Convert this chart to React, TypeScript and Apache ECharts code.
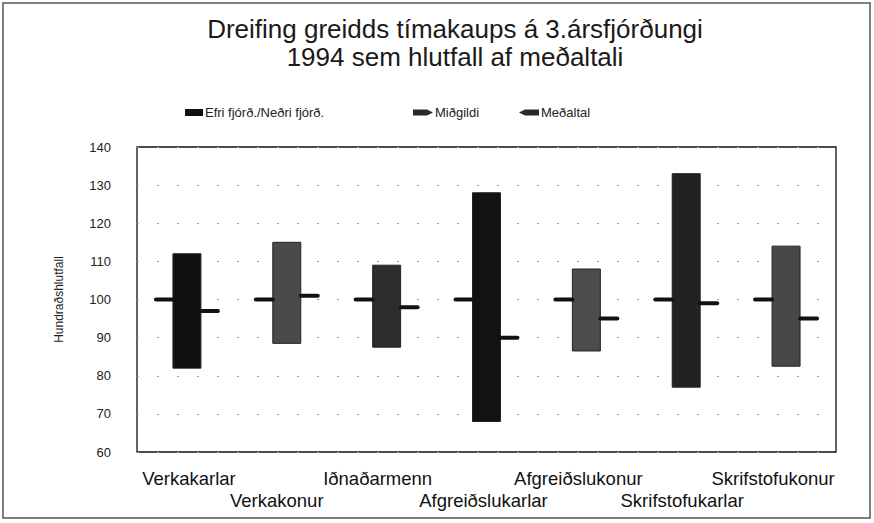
import React, { useEffect, useRef } from "react";
import * as echarts from "echarts";

const categories = [
  "Verkakarlar",
  "Verkakonur",
  "Iðnaðarmenn",
  "Afgreiðslukarlar",
  "Afgreiðslukonur",
  "Skrifstofukarlar",
  "Skrifstofukonur",
];
const upperQuartile = [112, 115, 109, 128, 108, 133, 114];
const lowerQuartile = [82, 88.5, 87.5, 68, 86.5, 77, 82.5];
const median = [97, 101, 98, 90, 95, 99, 95];
const mean = [100, 100, 100, 100, 100, 100, 100];
const yTicks = { min: 60, max: 140, interval: 10 };

// styling only
const boxColors = ["#111", "#4a4a4a", "#2c2c2c", "#121212", "#4c4c4c", "#222", "#484848"];
const labelShift = [2, -10, -9, -3, -8, -4, -13];
const FONT = "'Liberation Sans', Arial, Helvetica, sans-serif";

export default function App() {
  const ref = useRef<HTMLDivElement>(null);
  useEffect(() => {
    if (!ref.current) return;
    const chart = echarts.init(ref.current, undefined, { renderer: "svg" });
    const boxData = categories.map((_, i) => [i, lowerQuartile[i], upperQuartile[i]]);
    const medData = categories.map((_, i) => [i, median[i]]);
    const meanData = categories.map((_, i) => [i, mean[i]]);
    const boxHalf = (api: any) => api.size([1, 0])[0] * 0.14;
    const rich: any = {};
    labelShift.forEach((s, i) => {
      rich["s" + i] = {
        fontSize: 18.5,
        lineHeight: 22,
        color: "#111",
        fontFamily: FONT,
        padding: s < 0 ? [0, -2 * s, 0, 0] : [0, 0, 0, 2 * s],
      };
    });
    const option: any = {
      animation: false,
      backgroundColor: "#fff",
      textStyle: { fontFamily: FONT },
      title: {
        text: "Dreifing greidds tímakaups á 3.ársfjórðungi\n1994 sem hlutfall af meðaltali",
        left: 455,
        textAlign: "center",
        top: 15,
        padding: 0,
        textStyle: { fontFamily: FONT, fontSize: 26, fontWeight: "normal", color: "#1a1a1a", lineHeight: 28 },
      },
      legend: [
        {
          data: [{ name: "Efri fjórð./Neðri fjórð.", icon: "rect" }],
          left: 180, top: 101, itemWidth: 18, itemHeight: 7, itemGap: 4,
          textStyle: { fontFamily: FONT, fontSize: 13, color: "#222", padding: [0, 0, 0, -3] },
        },
        {
          data: [{ name: "Miðgildi", icon: "path://M0,0 L14,0 L20,3 L14,6 L0,6 Z" }],
          left: 408, top: 101, itemWidth: 20, itemHeight: 7,
          textStyle: { fontFamily: FONT, fontSize: 13, color: "#222", padding: [0, 0, 0, -3] },
        },
        {
          data: [{ name: "Meðaltal", icon: "path://M6,0 L20,0 L20,6 L6,6 L0,3 Z" }],
          left: 514, top: 101, itemWidth: 20, itemHeight: 7,
          textStyle: { fontFamily: FONT, fontSize: 13, color: "#222", padding: [0, 0, 0, -3] },
        },
      ],
      grid: {
        left: 137, right: 38, top: 147, bottom: 71,
        show: true, borderColor: "#111", borderWidth: 1.3, backgroundColor: "transparent",
      },
      xAxis: {
        type: "category",
        data: categories,
        axisLine: { show: false },
        axisTick: { show: false },
        axisLabel: {
          interval: 0,
          margin: 15,
          fontSize: 18.5,
          lineHeight: 22,
          color: "#111",
          fontFamily: FONT,
          rich,
          formatter: (v: string, i: number) => (i % 2 ? "\n" : "") + "{s" + i + "|" + v + "}",
        },
        splitLine: { show: false },
      },
      yAxis: {
        type: "value",
        min: yTicks.min,
        max: yTicks.max,
        interval: yTicks.interval,
        name: "Hundraðshlutfall",
        nameLocation: "middle",
        nameRotate: 90,
        nameGap: 72,
        nameTextStyle: { fontFamily: FONT, fontSize: 12, color: "#222" },
        axisLine: { show: false },
        axisTick: { show: false },
        axisLabel: { fontSize: 13, color: "#222", margin: 26, fontFamily: FONT },
        splitLine: { show: true, lineStyle: { color: "#9a9a9a", width: 1, type: [2, 18] } },
      },
      series: [
        {
          name: "Efri fjórð./Neðri fjórð.",
          type: "custom",
          itemStyle: { color: "#111" },
          data: boxData,
          encode: { x: 0, y: [1, 2] },
          renderItem: (params: any, api: any) => {
            const i = api.value(0);
            const lo = api.coord([i, api.value(1)]);
            const hi = api.coord([i, api.value(2)]);
            const hw = boxHalf(api);
            return {
              type: "rect",
              shape: { x: lo[0] - hw, y: hi[1], width: hw * 2, height: lo[1] - hi[1] },
              style: { fill: boxColors[params.dataIndex], stroke: "#222", lineWidth: 1 },
            };
          },
        },
        {
          name: "Miðgildi",
          type: "custom",
          itemStyle: { color: "#2a2a2a" },
          data: medData,
          encode: { x: 0, y: 1 },
          renderItem: (params: any, api: any) => {
            const i = api.value(0);
            const p = api.coord([i, api.value(1)]);
            const hw = boxHalf(api);
            return {
              type: "line",
              shape: { x1: p[0] + hw, y1: p[1], x2: p[0] + hw + 17, y2: p[1] },
              style: { stroke: "#111", lineWidth: 4, lineCap: "round" },
            };
          },
        },
        {
          name: "Meðaltal",
          type: "custom",
          itemStyle: { color: "#2a2a2a" },
          data: meanData,
          encode: { x: 0, y: 1 },
          renderItem: (params: any, api: any) => {
            const i = api.value(0);
            const p = api.coord([i, api.value(1)]);
            const hw = boxHalf(api);
            return {
              type: "line",
              shape: { x1: p[0] - hw - 17, y1: p[1], x2: p[0] - hw, y2: p[1] },
              style: { stroke: "#111", lineWidth: 4, lineCap: "round" },
            };
          },
        },
      ],
      graphic: [
        {
          type: "rect",
          shape: { x: 3, y: 3, width: 867, height: 515 },
          style: { fill: "none", stroke: "#555", lineWidth: 1.5 },
          silent: true,
        },
      ],
    };
    chart.setOption(option);
    return () => chart.dispose();
  }, []);
  return (
    <div
      ref={ref}
      style={{ position: "fixed", left: 0, top: 0, width: 874, height: 523 }}
    />
  );
}
